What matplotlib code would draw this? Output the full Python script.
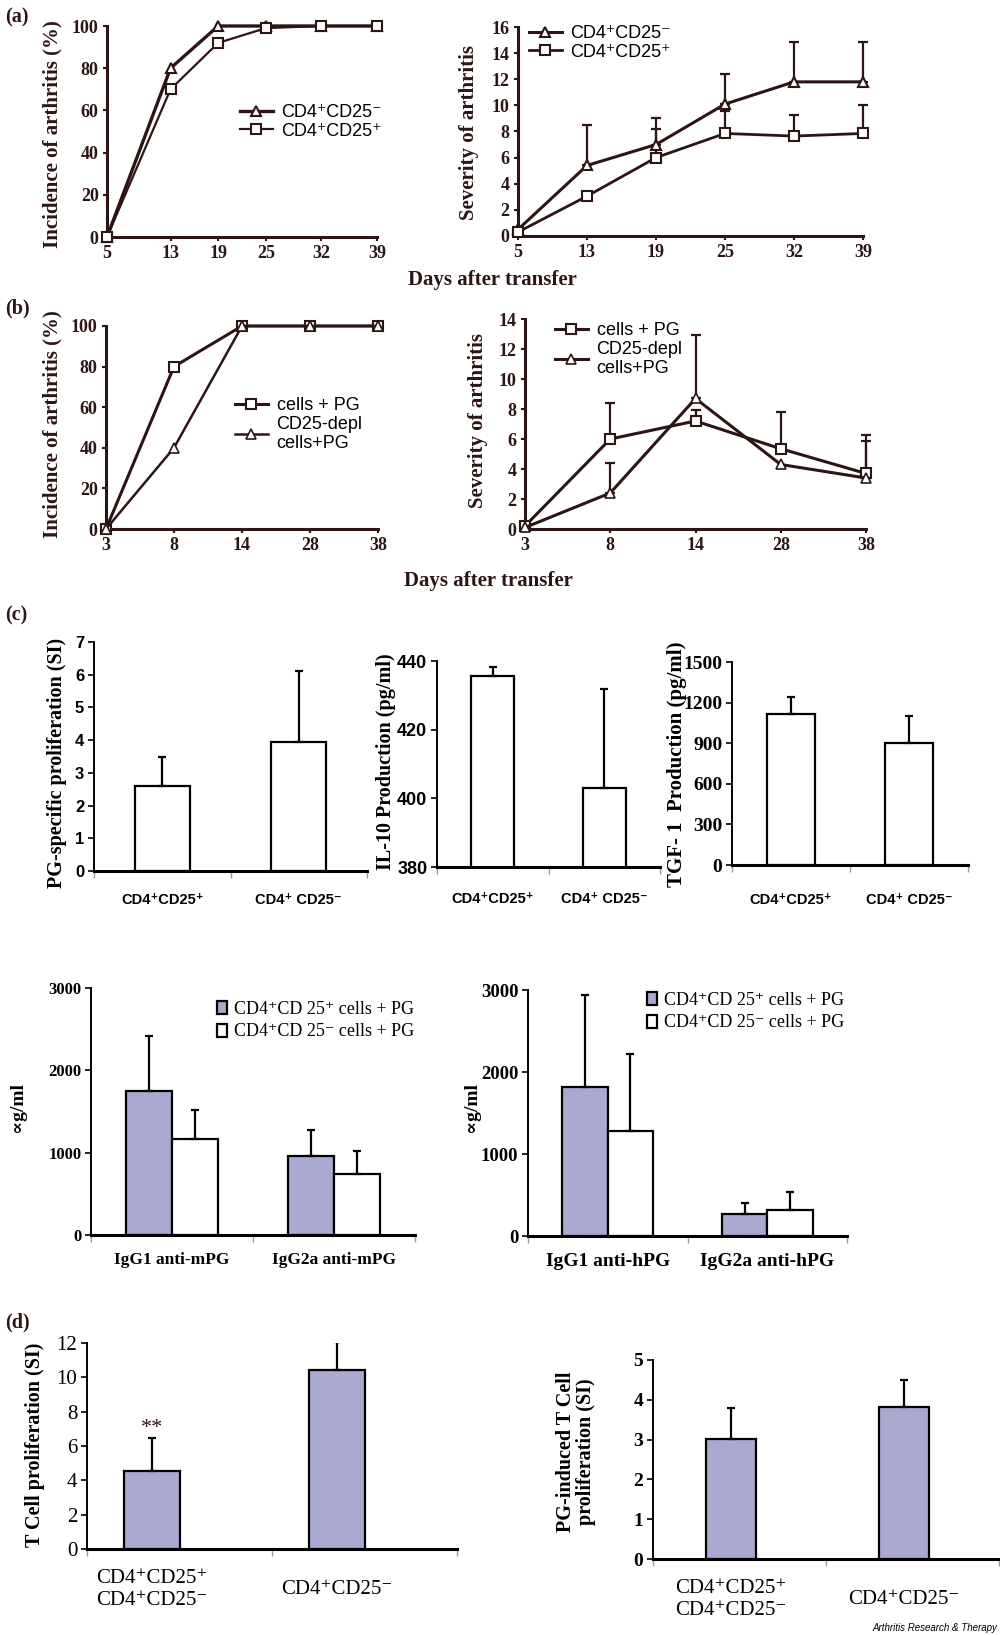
import matplotlib
matplotlib.use('Agg')
import matplotlib.pyplot as plt
from matplotlib import font_manager
import numpy as np

W, H = 1000, 1635
BROWN = '#2e1515'
PURPLE = '#aaa9d2'
SERIF = ['Liberation Serif', 'DejaVu Serif']
SANS = ['Liberation Sans', 'DejaVu Sans']
installed = {f.name for f in font_manager.fontManager.ttflist}
NARROW = (['Liberation Sans Narrow'] if 'Liberation Sans Narrow' in installed else []) + SANS
plt.rcParams['font.family'] = SERIF

# ---- data ----
# (a)
a_days = [5, 13, 19, 25, 32, 39]
a_inc_neg = [0, 80, 100, 100, 100, 100]
a_inc_pos = [0, 70, 92, 99, 100, 100]
a_sev_neg = [0.5, 5.4, 7.0, 10.1, 11.8, 11.8]
a_sev_neg_err = [0, 3.1, 2.0, 2.3, 3.05, 3.05]
a_sev_pos = [0.3, 3.05, 6.0, 7.85, 7.65, 7.85]
a_sev_pos_err = [0, 0, 2.2, 1.7, 1.6, 2.2]
a_labels = ['CD4\u207aCD25\u207b', 'CD4\u207aCD25\u207a']
# (b)
b_days = [3, 8, 14, 28, 38]
b_inc_cells = [0, 80, 100, 100, 100]
b_inc_depl = [0, 40, 100, 100, 100]
b_sev_cells = [0.2, 6.0, 7.2, 5.35, 3.7]
b_sev_cells_err = [0, 2.4, 0.7, 2.45, 2.55]
b_sev_depl = [0.1, 2.4, 8.7, 4.3, 3.4]
b_sev_depl_err = [0, 2.0, 4.2, 0, 2.45]
b_labels = ['cells + PG', 'CD25-depl\ncells+PG']
# (c)
c_groups = ['CD4\u207aCD25\u207a', 'CD4\u207a CD25\u207b']
c_prolif = [2.61, 3.94]
c_prolif_err = [0.87, 2.16]
c_il10 = [435.5, 403.1]
c_il10_err = [2.8, 28.8]
c_tgf = [1119, 902]
c_tgf_err = [123, 199]
c_m_cats = ['IgG1 anti-mPG', 'IgG2a anti-mPG']
c_m_pos = [1743, 965]
c_m_pos_err = [677, 312]
c_m_neg = [1171, 738]
c_m_neg_err = [349, 288]
c_h_cats = ['IgG1 anti-hPG', 'IgG2a anti-hPG']
c_h_pos = [1821, 268]
c_h_pos_err = [1118, 139]
c_h_neg = [1285, 317]
c_h_neg_err = [930, 224]
c_leg = ['CD4\u207aCD 25\u207a cells + PG', 'CD4\u207aCD 25\u207b cells + PG']
# (d)
d_groups = ['CD4\u207aCD25\u207a\nCD4\u207aCD25\u207b', 'CD4\u207aCD25\u207b']
d_tcell = [4.52, 10.41]
d_tcell_err = [1.95, 1.63]
d_pg = [3.01, 3.81]
d_pg_err = [0.78, 0.69]

fig = plt.figure(figsize=(10, 16.35), dpi=100)


def add_ax(l, r, t, b):
    return fig.add_axes([l / W, 1 - b / H, (r - l) / W, (b - t) / H])


def ftext(x, y, s, **kw):
    fig.text(x / W, 1 - y / H, s, **kw)


def set_font(labels, family, size, weight):
    for t in labels:
        t.set_family(family)
        t.set_size(size)
        t.set_weight(weight)


def up_err(ax, x, y, e, lw=1.6, cap=3.5, color=BROWN):
    x, y, e = np.asarray(x, float), np.asarray(y, float), np.asarray(e, float)
    m = e > 0
    ax.errorbar(x[m], y[m], yerr=[np.zeros(m.sum()), e[m]], fmt='none', ecolor=color,
                elinewidth=lw, capsize=cap, capthick=lw, zorder=2, clip_on=False)


def line_style(ax):
    ax.spines[['top', 'right']].set_visible(False)
    for s in ['left', 'bottom']:
        ax.spines[s].set_color(BROWN)
        ax.spines[s].set_linewidth(2.2)
    ax.tick_params(colors=BROWN, width=1.5, length=3, pad=3)
    set_font(ax.get_xticklabels() + ax.get_yticklabels(), SERIF, 13, 'bold')


def line_legend(ax, x, y):
    ax.legend(loc='upper left', bbox_to_anchor=(x / W, 1 - y / H), bbox_transform=fig.transFigure,
              frameon=False, borderpad=0, borderaxespad=0, handlelength=1.8, handletextpad=0.5,
              labelspacing=0.1, prop={'family': SANS, 'size': 13})


def bar_style(ax, xlim, ylim, yticks, spine_w=2.2):
    ax.spines[['top', 'right']].set_visible(False)
    ax.spines['left'].set_linewidth(1.4)
    ax.spines['bottom'].set_linewidth(spine_w)
    ax.set_xlim(xlim)
    ax.set_ylim(ylim)
    ax.set_yticks(yticks)
    ax.set_xticks([xlim[0], (xlim[0] + xlim[1]) / 2, xlim[1]], minor=True)
    ax.tick_params(axis='y', length=4, width=1.2, pad=3)
    ax.tick_params(axis='x', which='major', length=0)
    ax.tick_params(axis='x', which='minor', length=5, width=1, color='#9a9a9a')


# ---------------- (a) ----------------
ax = add_ax(107, 377, 26, 237)
ax.plot(a_days, a_inc_neg, '-^', color=BROWN, lw=2.4, ms=7, mfc='white', mew=1.5,
        clip_on=False, zorder=3, label=a_labels[0])
ax.plot(a_days, a_inc_pos, '-s', color=BROWN, lw=1.6, ms=6.5, mfc='white', mew=1.5,
        clip_on=False, zorder=3, label=a_labels[1])
ax.set_xlim(5, 39)
ax.set_ylim(0, 100)
ax.set_xticks(a_days)
ax.set_yticks(range(0, 101, 20))
line_style(ax)
line_legend(ax, 240, 104)
ftext(52, 134, 'Incidence of arthritis (%)', rotation=90, ha='center', va='center',
      fontsize=15, weight='bold', color=BROWN)

ax = add_ax(518, 863, 27, 236)
xa = np.arange(len(a_days))
up_err(ax, xa, a_sev_neg, a_sev_neg_err)
up_err(ax, xa, a_sev_pos, a_sev_pos_err)
ax.plot(xa, a_sev_neg, '-^', color=BROWN, lw=2.2, ms=6.5, mfc='white', mew=1.5,
        clip_on=False, zorder=3, label=a_labels[0])
ax.plot(xa, a_sev_pos, '-s', color=BROWN, lw=2.0, ms=6.5, mfc='white', mew=1.5,
        clip_on=False, zorder=3, label=a_labels[1])
ax.set_xlim(0, len(a_days) - 1)
ax.set_ylim(0, 16)
ax.set_xticks(xa, [str(d) for d in a_days])
ax.set_yticks(range(0, 17, 2))
line_style(ax)
line_legend(ax, 529, 25)
ftext(469, 133, 'Severity of arthritis', rotation=90, ha='center', va='center',
      fontsize=15, weight='bold', color=BROWN)

ftext(492, 280, 'Days after transfer', ha='center', va='center', fontsize=15,
      weight='bold', color=BROWN)
ftext(5, 17, '(a)', va='center', fontsize=14.5, weight='bold', color=BROWN)

# ---------------- (b) ----------------
ax = add_ax(106, 378, 326, 529)
xb = np.arange(len(b_days))
ax.plot(xb, b_inc_cells, '-s', color=BROWN, lw=2.2, ms=6.5, mfc='white', mew=1.5,
        clip_on=False, zorder=3, label=b_labels[0])
ax.plot(xb, b_inc_depl, '-^', color=BROWN, lw=1.8, ms=6.5, mfc='white', mew=1.2,
        clip_on=False, zorder=3, label=b_labels[1])
ax.set_xlim(0, len(b_days) - 1)
ax.set_ylim(0, 100)
ax.set_xticks(xb, [str(d) for d in b_days])
ax.set_yticks(range(0, 101, 20))
line_style(ax)
line_legend(ax, 235, 397)
ftext(52, 424, 'Incidence of arthritis (%)', rotation=90, ha='center', va='center',
      fontsize=15, weight='bold', color=BROWN)

ax = add_ax(525, 866, 319, 529)
up_err(ax, xb, b_sev_cells, b_sev_cells_err)
up_err(ax, xb, b_sev_depl, b_sev_depl_err)
ax.plot(xb, b_sev_cells, '-s', color=BROWN, lw=2.2, ms=6.5, mfc='white', mew=1.5,
        clip_on=False, zorder=3, label=b_labels[0])
ax.plot(xb, b_sev_depl, '-^', color=BROWN, lw=2.2, ms=6.5, mfc='white', mew=1.2,
        clip_on=False, zorder=3, label=b_labels[1])
ax.set_xlim(0, len(b_days) - 1)
ax.set_ylim(0, 14)
ax.set_xticks(xb, [str(d) for d in b_days])
ax.set_yticks(range(0, 15, 2))
line_style(ax)
line_legend(ax, 555, 322)
ftext(478, 421, 'Severity of arthritis', rotation=90, ha='center', va='center',
      fontsize=15, weight='bold', color=BROWN)

ftext(488, 581, 'Days after transfer', ha='center', va='center', fontsize=15,
      weight='bold', color=BROWN)
ftext(5, 308, '(b)', va='center', fontsize=14.5, weight='bold', color=BROWN)

# ---------------- (c) top row ----------------
ftext(5, 615, '(c)', va='center', fontsize=14.5, weight='bold', color=BROWN)
err_kw = dict(ecolor='black', elinewidth=1.6, capsize=3, capthick=1.6)
xc = np.arange(len(c_groups))

ax = add_ax(94, 367, 642, 871)
ax.bar(xc, c_prolif, 0.4, color='white', edgecolor='black', lw=1.6,
       yerr=[[0] * len(xc), c_prolif_err], error_kw=err_kw)
bar_style(ax, (-0.5, 1.5), (0, 7), range(0, 8))
ax.set_xticks(xc, c_groups)
ax.tick_params(axis='x', which='major', pad=16)
set_font(ax.get_yticklabels(), NARROW, 12, 'bold')
set_font(ax.get_xticklabels(), SANS, 10.5, 'bold')
ftext(57, 763, 'PG-specific proliferation (SI)', rotation=90, ha='center', va='center',
      fontsize=14.5, weight='bold')

ax = add_ax(437, 660, 661, 867)
ax.bar(xc, c_il10, 0.39, color='white', edgecolor='black', lw=1.6,
       yerr=[[0] * len(xc), c_il10_err], error_kw=err_kw)
bar_style(ax, (-0.5, 1.5), (380, 440), range(380, 441, 20))
ax.set_xticks(xc, c_groups)
ax.tick_params(axis='x', which='major', pad=18)
set_font(ax.get_yticklabels(), NARROW, 13, 'bold')
set_font(ax.get_xticklabels(), SANS, 10.5, 'bold')
ftext(386, 762, 'IL-10 Production (pg/ml)', rotation=90, ha='center', va='center',
      fontsize=14.5, weight='bold')

ax = add_ax(732, 968, 662, 865)
ax.bar(xc, c_tgf, 0.4, color='white', edgecolor='black', lw=1.6,
       yerr=[[0] * len(xc), c_tgf_err], error_kw=err_kw)
bar_style(ax, (-0.5, 1.5), (0, 1500), range(0, 1501, 300))
ax.set_xticks(xc, c_groups)
ax.tick_params(axis='x', which='major', pad=20)
set_font(ax.get_yticklabels(), SERIF, 14, 'bold')
set_font(ax.get_xticklabels(), SANS, 10.5, 'bold')
ftext(677, 764, 'TGF- 1  Production (pg/ml)', rotation=90, ha='center', va='center',
      fontsize=15, weight='bold')

# ---------------- (c) antibody row ----------------
bw = 0.285
for (l, r, t, b, cats, pos, pos_e, neg, neg_e, ylx, legx, legy, fs) in [
        (91, 415, 988, 1235, c_m_cats, c_m_pos, c_m_pos_err, c_m_neg, c_m_neg_err, 17, 217, 1001, 12),
        (528, 847, 990, 1236, c_h_cats, c_h_pos, c_h_pos_err, c_h_neg, c_h_neg_err, 472, 647, 992, 13.5)]:
    ax = add_ax(l, r, t, b)
    xg = np.arange(len(cats))
    ax.bar(xg - bw / 2, pos, bw, color=PURPLE, edgecolor='black', lw=1.6,
           yerr=[[0] * len(xg), pos_e], error_kw=err_kw, label=c_leg[0])
    ax.bar(xg + bw / 2, neg, bw, color='white', edgecolor='black', lw=1.6,
           yerr=[[0] * len(xg), neg_e], error_kw=err_kw, label=c_leg[1])
    bar_style(ax, (-0.5, 1.5), (0, 3000), range(0, 3001, 1000))
    ax.set_xticks(xg, cats)
    ax.tick_params(axis='x', which='major', pad=12)
    set_font(ax.get_yticklabels(), SERIF, fs, 'bold')
    set_font(ax.get_xticklabels(), SERIF, fs + 0.5, 'bold')
    ax.legend(loc='upper left', bbox_to_anchor=(legx / W, 1 - legy / H), bbox_transform=fig.transFigure,
              frameon=False, borderpad=0, borderaxespad=0, handlelength=0.55, handleheight=0.75,
              handletextpad=0.4, labelspacing=0.3, prop={'family': SERIF, 'size': 13})
    ftext(ylx, 1107, '\u221dg/ml', rotation=90, ha='center', va='center', fontsize=14, weight='bold')

# ---------------- (d) ----------------
ftext(5, 1322, '(d)', va='center', fontsize=14.5, weight='bold', color=BROWN)
xd = np.arange(len(d_groups))

ax = add_ax(87, 457, 1343, 1549)
ax.bar(xd, d_tcell, 0.3, color=PURPLE, edgecolor='black', lw=1.6,
       yerr=[[0] * len(xd), d_tcell_err], error_kw=err_kw)
bar_style(ax, (-0.35, 1.65), (0, 12), range(0, 13, 2))
ax.set_xticks(xd, d_groups)
ax.tick_params(axis='x', which='major', pad=29)
for t in ax.get_xticklabels():
    t.set_verticalalignment('center')
set_font(ax.get_yticklabels(), SERIF, 15, 'normal')
set_font(ax.get_xticklabels(), SERIF, 15, 'normal')
ax.text(xd[0], d_tcell[0] + d_tcell_err[0], '**', ha='center', va='bottom', fontsize=16, color=BROWN)
ftext(35, 1445, 'T Cell proliferation (SI)', rotation=90, ha='center', va='center',
      fontsize=14.5, weight='bold')

ax = add_ax(653, 999, 1360, 1559)
ax.bar(xd, d_pg, 0.29, color=PURPLE, edgecolor='black', lw=1.6,
       yerr=[[0] * len(xd), d_pg_err], error_kw=err_kw)
bar_style(ax, (-0.45, 1.55), (0, 5), range(0, 6))
ax.set_xticks(xd, d_groups)
ax.tick_params(axis='x', which='major', pad=29)
for t in ax.get_xticklabels():
    t.set_verticalalignment('center')
set_font(ax.get_yticklabels(), SERIF, 14, 'bold')
set_font(ax.get_xticklabels(), SERIF, 15, 'normal')
ftext(576, 1452, 'PG-induced T Cell\nproliferation (SI)', rotation=90, ha='center', va='center',
      fontsize=14.5, weight='bold', linespacing=1.0)

ftext(997, 1628, 'Arthritis Research & Therapy', ha='right', va='center', fontsize=7,
      style='italic', family=SANS)

fig.savefig('out.png', dpi=100, facecolor='white')
